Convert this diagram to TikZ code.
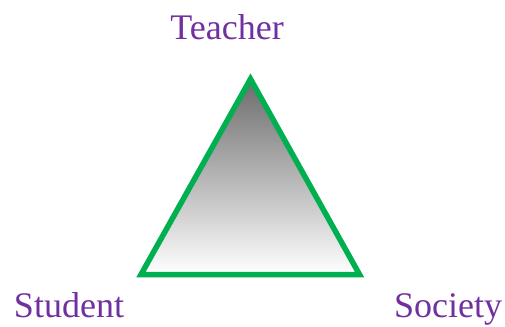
\documentclass[tikz,border=0pt]{standalone}
\usepackage{fontspec}
\setmainfont{Liberation Serif}
\definecolor{labelpurple}{RGB}{112,48,160}
\definecolor{edgegreen}{RGB}{0,176,80}
\tikzset{
  corner/.style={anchor=base, text=labelpurple, font=\fontsize{36}{40}\selectfont, inner sep=0pt}
}

\begin{document}
\begin{tikzpicture}[x=1pt,y=-1pt]
  \useasboundingbox (0,0) rectangle (505,326);
  % triangle
  \coordinate (apex) at (250.5,79);
  \coordinate (left) at (141,274.5);
  \coordinate (right) at (359.5,274.5);
  \shade[top color=black!58, bottom color=white] (apex) -- (left) -- (right) -- cycle;
  \draw[edgegreen, line width=5.5pt, line join=miter] (apex) -- (left) -- (right) -- cycle;
  % labels
  \node[corner] (teacher) at (227,40) {Teacher};
  \node[corner] (student) at (69,317) {Student};
  \node[corner] (society) at (448,317) {Society};
\end{tikzpicture}
\end{document}
